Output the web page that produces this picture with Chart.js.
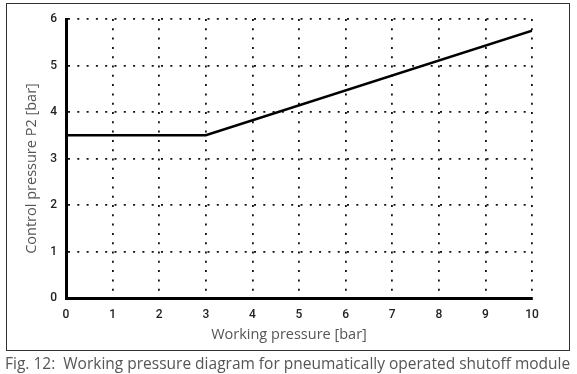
<!DOCTYPE html>
<html>
<head>
<meta charset="utf-8">
<script src="https://cdn.jsdelivr.net/npm/chart.js@4.4.1/dist/chart.umd.min.js"></script>
<style>
  html, body { margin: 0; padding: 0; background: #fff; }
  #wrap { position: relative; width: 577px; height: 374px; }
  #frame { position: absolute; left: 6px; top: 3px; width: 562px; height: 346px; border: 1.5px solid #333; pointer-events: none; }
  #cap { position: absolute; left: 5px; top: 352px; font: 15.5px "Open Sans", sans-serif; color: #555; white-space: pre; }
  canvas { position: absolute; left: 0; top: 0; }
</style>
</head>
<body>
<div id="wrap">
  <canvas id="chart" width="577" height="374"></canvas>
  <div id="frame"></div>
  <div id="cap">Fig. 12:  Working pressure diagram for pneumatically operated shutoff module</div>
</div>
<script>
/* ====== Data ====== */
const workingPressure = [0, 3, 10];
const controlPressure = [3.5, 3.5, 5.75];
const xTicks = [0, 1, 2, 3, 4, 5, 6, 7, 8, 9, 10];
const yTicks = [0, 1, 2, 3, 4, 5, 6];
const xTitle = "Working pressure [bar]";
const yTitle = "Control pressure P2 [bar]";

/* ====== Axis titles (drawn off-centre like the original) ====== */
const axisTitles = {
  id: "axisTitles",
  afterDraw(chart) {
    const { ctx, chartArea } = chart;
    ctx.save();
    ctx.fillStyle = "#555";
    ctx.font = "14.5px 'Open Sans', sans-serif";
    ctx.textAlign = "center";
    ctx.textBaseline = "middle";
    ctx.fillText(xTitle, (chartArea.left + chartArea.right) / 2 - 10, chartArea.bottom + 37);
    ctx.translate(chartArea.left - 34, (chartArea.top + chartArea.bottom) / 2 + 10);
    ctx.rotate(-Math.PI / 2);
    ctx.fillText(yTitle, 0, 0);
    ctx.restore();
  }
};

const tickFont = { family: "Roboto", size: 12, weight: "500" };

new Chart(document.getElementById("chart"), {
  type: "line",
  data: {
    datasets: [{
      data: workingPressure.map((x, i) => ({ x, y: controlPressure[i] })),
      borderColor: "#000",
      borderWidth: 2.6,
      pointRadius: 0,
      tension: 0
    }]
  },
  options: {
    responsive: false,
    animation: false,
    layout: { padding: { left: 0, top: 19, right: 45, bottom: 0 } },
    plugins: { legend: { display: false }, tooltip: { enabled: false } },
    scales: {
      x: {
        type: "linear",
        min: 0, max: 10,
        afterBuildTicks: s => { s.ticks = xTicks.map(v => ({ value: v })); },
        afterFit: s => { s.height = 76; },
        grid: { color: "#111", lineWidth: 1.8, drawTicks: false },
        border: { display: true, color: "#000", width: 3, dash: [2, 7.3] },
        ticks: { color: "#222", padding: 10, font: tickFont }
      },
      y: {
        min: 0, max: 6,
        afterBuildTicks: s => { s.ticks = yTicks.map(v => ({ value: v })); },
        afterFit: s => { s.width = 66; },
        grid: { color: "#111", lineWidth: 1.8, drawTicks: false },
        border: { display: true, color: "#000", width: 3, dash: [2, 7.3] },
        ticks: { color: "#222", padding: 9, font: tickFont }
      }
    }
  },
  plugins: [axisTitles]
});
</script>
</body>
</html>
